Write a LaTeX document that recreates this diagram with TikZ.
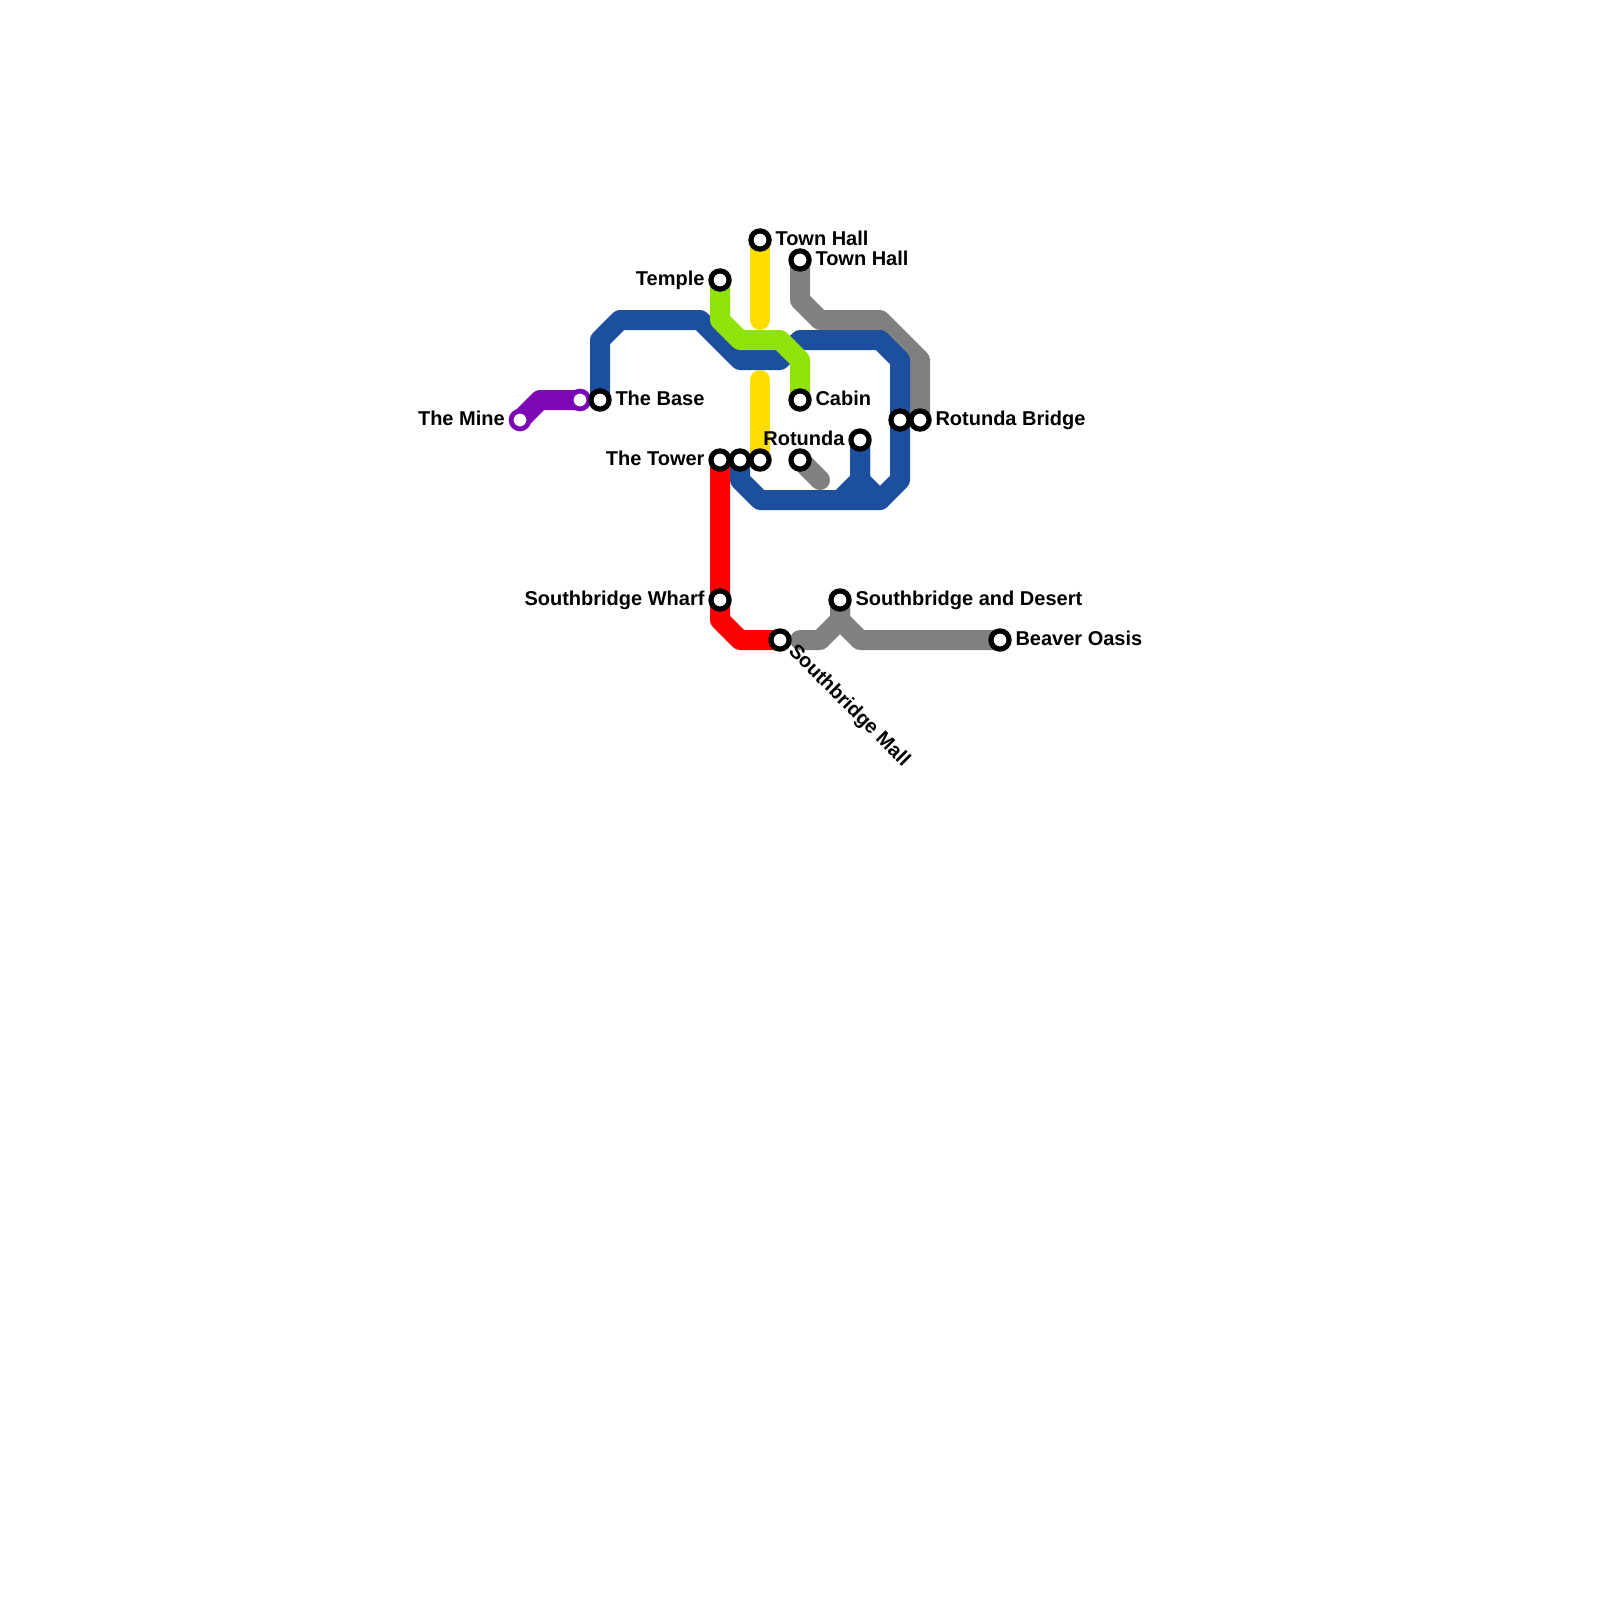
\documentclass[tikz,border=0pt]{standalone}
\usepackage{fontspec}
\setmainfont{Liberation Sans}
\usepackage{xcolor}
\usetikzlibrary{positioning,backgrounds}
\definecolor{mtblue}{HTML}{1D4F9F}
\definecolor{mtgreen}{HTML}{8FE30B}
\definecolor{mtyellow}{HTML}{FFDD00}
\definecolor{mtgray}{HTML}{808080}
\definecolor{mtred}{HTML}{FF0000}
\definecolor{mtpurple}{HTML}{7B07B5}
\tikzset{
  metroline/.style={line width=10pt, line cap=round, line join=round},
  station/.style={circle, draw=black, line width=2.6pt, fill=white, inner sep=0pt, outer sep=0pt, minimum size=9.1pt},
  endstation/.style={circle, draw=mtpurple, line width=2.4pt, fill=white, inner sep=0pt, outer sep=0pt, minimum size=8.9pt},
  stationlabel/.style={font=\bfseries\fontsize{10}{11}\selectfont, inner sep=0pt, text=black, text height=7pt, text depth=2pt}
}
\begin{document}
\begin{tikzpicture}[x=0.5pt, y=-0.5pt, node distance=0pt and 3pt]
    \useasboundingbox (0,0) rectangle (1600,1600);

    \node[endstation] (mine) at (520,420) {};
    \node[endstation] (mineend) at (580,400) {};
    \node[station] (base) at (600,400) {};
    \node[station] (temple) at (720,280) {};
    \node[station] (hallyellow) at (760,240) {};
    \node[station] (hallgray) at (800,260) {};
    \node[station] (cabin) at (800,400) {};
    \node[station] (rotunda) at (860,440) {};
    \node[station] (bridgeblue) at (900,420) {};
    \node[station] (bridge) at (920,420) {};
    \node[station] (tower) at (720,460) {};
    \node[station] (towerblue) at (740,460) {};
    \node[station] (toweryellow) at (760,460) {};
    \node[station] (graystub) at (800,460) {};
    \node[station] (wharf) at (720,600) {};
    \node[station] (mall) at (780,640) {};
    \node[station] (desert) at (840,600) {};
    \node[station] (oasis) at (1000,640) {};

    \node[stationlabel, left=of mine] (minetext) {The Mine};
    \node[stationlabel, right=of base] (basetext) {The Base};
    \node[stationlabel, left=of temple] (templetext) {Temple};
    \node[stationlabel, right=of hallyellow] (hallyellowtext) {Town Hall};
    \node[stationlabel, right=of hallgray] (hallgraytext) {Town Hall};
    \node[stationlabel, right=of cabin] (cabintext) {Cabin};
    \node[stationlabel, left=of rotunda] (rotundatext) {Rotunda};
    \node[stationlabel, right=of bridge] (bridgetext) {Rotunda Bridge};
    \node[stationlabel, left=of tower] (towertext) {The Tower};
    \node[stationlabel, left=of wharf] (wharftext) {Southbridge Wharf};
    \node[stationlabel, right=of desert] (deserttext) {Southbridge and Desert};
    \node[stationlabel, right=of oasis] (oasistext) {Beaver Oasis};
    \node[stationlabel, rotate=-45, anchor=west] (malltext) at ([xshift=5.5pt,yshift=-4.25pt]mall.center) {Southbridge Mall};

    \begin{scope}[on background layer]
        \draw[metroline, mtgray] (hallgray.center) -- ++(0,40) -- ++(20,20) -- ++(60,0) -- ++(40,40) -- (bridge.center);
        \draw[metroline, mtgray] (graystub.center) -- ++(20,20);
        \draw[metroline, mtgray] (desert.center) -- ++(0,20) -- ++(20,20) -- (oasis.center);
        \draw[metroline, mtgray] (desert.center) -- ++(0,20) -- ++(-20,20) -- ++(-20,0);
        \draw[metroline, mtblue] (base.center) -- ++(0,-60) -- ++(20,-20) -- ++(80,0) -- ++(40,40) -- ++(40,0) -- ++(20,-20) -- ++(80,0) -- ++(20,20) -- ++(0,120) -- ++(-20,20) -- ++(-120,0) -- ++(-20,-20) -- (towerblue.center);
        \draw[metroline, mtblue] (rotunda.center) -- ++(0,40) -- ++(-20,20);
        \draw[metroline, mtblue] (rotunda.center) -- ++(0,40) -- ++(20,20);
        \draw[metroline, mtred] (tower.center) -- ++(0,160) -- ++(20,20) -- (mall.center);
        \draw[metroline, mtyellow] (hallyellow.center) -- ++(0,80);
        \draw[metroline, mtyellow] (toweryellow.center) -- ++(0,-80);
        \draw[metroline, mtgreen] (temple.center) -- ++(0,40) -- ++(20,20) -- ++(40,0) -- ++(20,20) -- (cabin.center);
        \draw[metroline, mtpurple] (mine.center) -- ++(20,-20) -- (mineend.center);
    \end{scope}
\end{tikzpicture}
\end{document}
